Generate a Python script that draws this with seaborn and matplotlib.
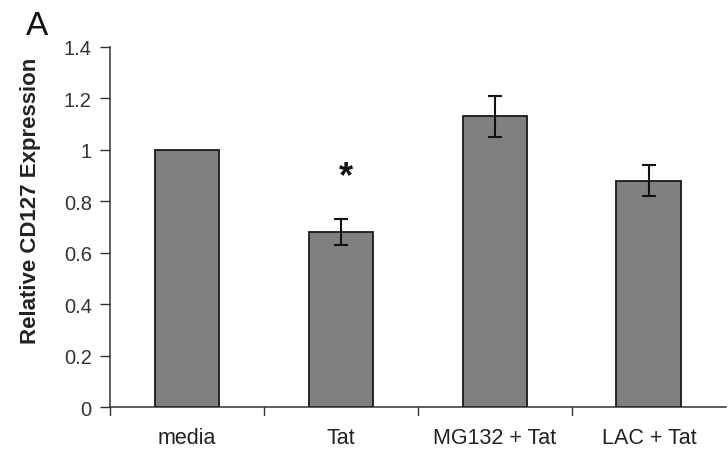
import matplotlib
matplotlib.use("Agg")
import matplotlib.pyplot as plt
import seaborn as sns
import numpy as np
import pandas as pd

conditions = ["media", "Tat", "MG132 + Tat", "LAC + Tat"]
expression = [1.0, 0.68, 1.13, 0.88]
errors = [0.0, 0.05, 0.08, 0.06]
y_ticks = [0, 0.2, 0.4, 0.6, 0.8, 1, 1.2, 1.4]
y_tick_labels = ["0", "0.2", "0.4", "0.6", "0.8", "1", "1.2", "1.4"]

sns.set_style("white")
plt.rcParams["font.family"] = ["Liberation Sans", "DejaVu Sans"]

df = pd.DataFrame({"condition": conditions, "value": expression})

fig = plt.figure(figsize=(7.28, 4.56), dpi=100)
ax = fig.add_axes([0.151, 0.105, 0.846, 0.79])

sns.barplot(data=df, x="condition", y="value", color="#808080", saturation=1,
            width=0.42, edgecolor="#1a1a1a", linewidth=1.3, ax=ax, errorbar=None)

xpos = np.arange(len(conditions))
for x, v, e in zip(xpos, expression, errors):
    if e > 0:
        ax.errorbar(x, v, yerr=e, fmt="none", ecolor="#111111", elinewidth=1.5,
                    capsize=5, capthick=1.5)

# significance marker above Tat
ax.text(1.03, 0.895, "*", ha="center", va="center", fontsize=26, fontweight="bold",
        color="#111111")

ax.set_xlim(-0.5, 3.5)
ax.set_ylim(0, 1.4)
ax.set_yticks(y_ticks)
ax.set_yticklabels(y_tick_labels, fontsize=14.5, color="#333333")
ax.set_xticks(xpos)
ax.set_xticklabels(conditions, fontsize=15.5, color="#222222")
ax.tick_params(axis="x", length=0, pad=14)
ax.tick_params(axis="y", direction="out", length=7, width=1, color="#333333", left=True, pad=6)

# category separators on the x axis
for b in np.arange(-0.5, 3.6, 1.0)[:-1]:
    ax.plot([b, b], [0, -0.03], color="#333333", lw=1, clip_on=False)

for side in ["top", "right"]:
    ax.spines[side].set_visible(False)
for side in ["left", "bottom"]:
    ax.spines[side].set_color("#333333")
    ax.spines[side].set_linewidth(1.1)

ax.set_xlabel("")
ax.set_ylabel("Relative CD127 Expression", fontsize=16, fontweight="bold",
              color="#222222")
ax.yaxis.set_label_coords(-0.112, 0.575)

fig.text(0.035, 0.975, "A", fontsize=24, ha="left", va="top", color="#111111")

fig.savefig("out.png", dpi=100)
